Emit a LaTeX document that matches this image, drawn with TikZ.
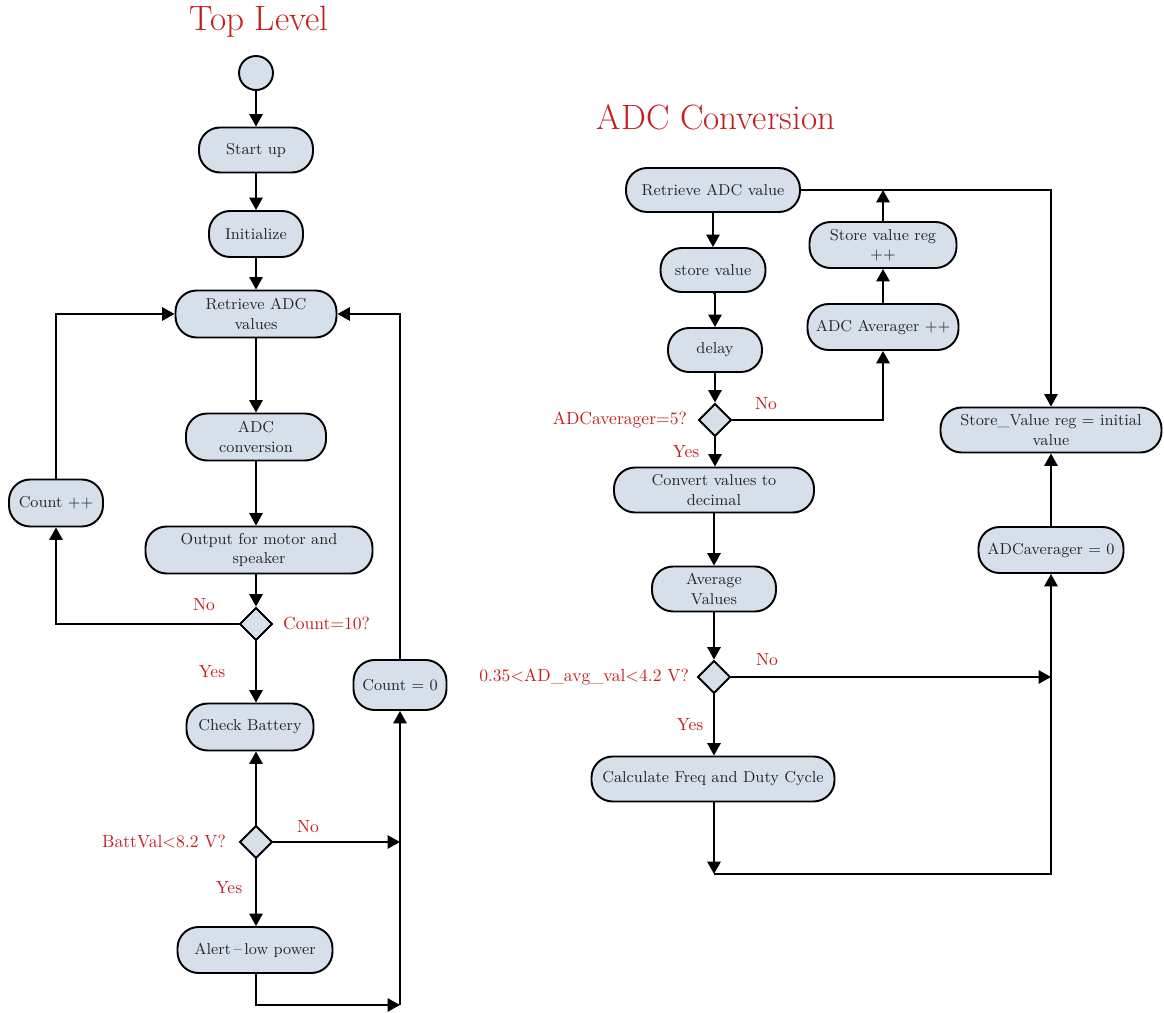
\documentclass[tikz,border=0pt]{standalone}
\usetikzlibrary{shapes.geometric,arrows.meta}
\definecolor{boxfill}{HTML}{D6DFEA}
\definecolor{lblred}{HTML}{C41E1E}
\definecolor{txt}{HTML}{262626}
\begin{document}
\begin{tikzpicture}[x=0.02cm,y=-0.02cm,
  box/.style 2 args={draw=black, line width=1.1pt, fill=boxfill, rounded corners=12pt,
    minimum width=#1*0.02cm, minimum height=#2*0.02cm, inner sep=0pt, align=center,
    text=txt, font=\fontsize{9}{11}\selectfont},
  dec/.style={draw=black, line width=1.1pt, fill=boxfill, diamond, aspect=1,
    minimum size=0.66cm, inner sep=0pt},
  startnode/.style={draw=black, line width=1.1pt, fill=boxfill, circle,
    minimum size=0.68cm, inner sep=0pt},
  arr/.style={-{Triangle[length=7pt,width=7.5pt]}, line width=1.1pt},
  lbl/.style={text=lblred, font=\fontsize{10}{12}\selectfont, inner sep=1pt},
  ttl/.style={text=lblred, font=\fontsize{20}{23}\selectfont, inner sep=0pt}]
\useasboundingbox (0,0) rectangle (1164,1013);

% ---------- Top Level ----------
\node[ttl] (t1) at (259,22) {Top Level};
\node[startnode] (st) at (256,73) {};
\node[box={114}{45}] (startup) at (256,150) {Start up};
\node[box={94}{46}] (init) at (256,234) {Initialize};
\node[box={161}{47}] (ret) at (256,314) {Retrieve ADC\\values};
\node[box={140}{47}] (adcc) at (256,437) {ADC\\conversion};
\node[box={227}{47}] (out) at (259,550) {Output for motor and\\speaker};
\node[dec] (d1) at (256,624) {};
\node[box={94}{47}] (cpp) at (56,503) {Count ++};
\node[box={127}{47}] (chk) at (250,727) {Check Battery};
\node[dec] (d2) at (256,842) {};
\node[box={155}{46}] (alert) at (255,950) {Alert\,--\,low power};
\node[box={93}{50}] (c0) at (400,685) {Count = 0};
\coordinate (j1) at (400,842);
\coordinate (j2) at (400,1005);

\draw[arr] (st) -- (startup);
\draw[arr] (startup) -- (init);
\draw[arr] (init) -- (ret);
\draw[arr] (ret) -- (adcc);
\draw[arr] (adcc.south) -- (adcc.south |- out.north);
\draw[arr] (out.south -| d1.north) -- (d1.north);
\draw[arr] (d1.south) -- (d1.south |- chk.north);
\draw[arr] (d1.west) -| (cpp.south);
\draw[arr] (cpp.north) |- (ret.west);
\draw[arr] (d2.north) -- (d2.north |- chk.south);
\draw[arr] (d2.east) -- (j1);
\draw[arr] (d2.south) -- (d2.south |- alert.north);
\draw[arr] (alert.south -| d2.south) |- (j2);
\draw[arr] (j2) -- (c0.south);
\draw[arr] (c0.north) |- (ret.east);

\node[lbl] (l1) at (204,605) {No};
\node[lbl, anchor=west] (l2) at (281,624) {Count=10?};
\node[lbl] (l3) at (212,672) {Yes};
\node[lbl, anchor=east] (l4) at (228,842) {BattVal\textless8.2 V?};
\node[lbl] (l5) at (308,827) {No};
\node[lbl] (l6) at (229,888) {Yes};

% ---------- ADC Conversion ----------
\node[ttl] (t2) at (716,117) {ADC Conversion};
\node[box={174}{44}] (rret) at (713,190) {Retrieve ADC value};
\node[box={105}{44}] (sv) at (713,270) {store value};
\node[box={94}{44}] (dly) at (715,350) {delay};
\node[dec] (d3) at (715,420) {};
\node[box={147}{46}] (svr) at (883,245) {Store value reg\\++};
\node[box={151}{46}] (adcav) at (883,327) {ADC Averager ++};
\node[box={221}{45}] (svinit) at (1051,430) {Store\_Value reg = initial\\value};
\node[box={200}{45}] (conv) at (714,490) {Convert values to\\decimal};
\node[box={124}{45}] (avg) at (714,589) {Average\\Values};
\node[dec] (d4) at (714,677) {};
\node[box={243}{45}] (calc) at (713,779) {Calculate Freq and Duty Cycle};
\node[box={145}{46}] (adc0) at (1051,550) {ADCaverager = 0};
\coordinate (j3) at (1051,677);
\coordinate (k1) at (714,874);
\coordinate (j4) at (1051,874);

\draw[arr] (rret.south -| sv.north) -- (sv.north);
\draw[arr] (sv.south) -- (sv.south -| dly.north) -- (dly.north);
\draw[arr] (dly.south -| d3.north) -- (d3.north);
\draw[arr] (d3.east) -| (adcav.south);
\draw[arr] (adcav) -- (svr);
\draw[arr] (svr.north) -- (svr.north |- rret.east);
\draw[arr] (rret.east) -| (svinit.north);
\draw[arr] (d3.south) -- (d3.south |- conv.north);
\draw[arr] (conv.south -| avg.north) -- (avg.north);
\draw[arr] (avg.south -| d4.north) -- (d4.north);
\draw[arr] (d4.south) -- (d4.south |- calc.north);
\draw[arr] (d4.east) -- (j3);
\draw[arr] (calc.south -| k1) -- (k1);
\draw[arr] (k1) -- (j4) -- (adc0.south);
\draw[arr] (adc0) -- (svinit);

\node[lbl, anchor=east] (l7) at (689,420) {ADCaverager=5?};
\node[lbl] (l8) at (766,404) {No};
\node[lbl] (l9) at (686,452) {Yes};
\node[lbl, anchor=east] (l10) at (691,677) {0.35\textless AD\_avg\_val\textless4.2 V?};
\node[lbl] (l11) at (767,660) {No};
\node[lbl] (l12) at (690,725) {Yes};
\end{tikzpicture}
\end{document}
